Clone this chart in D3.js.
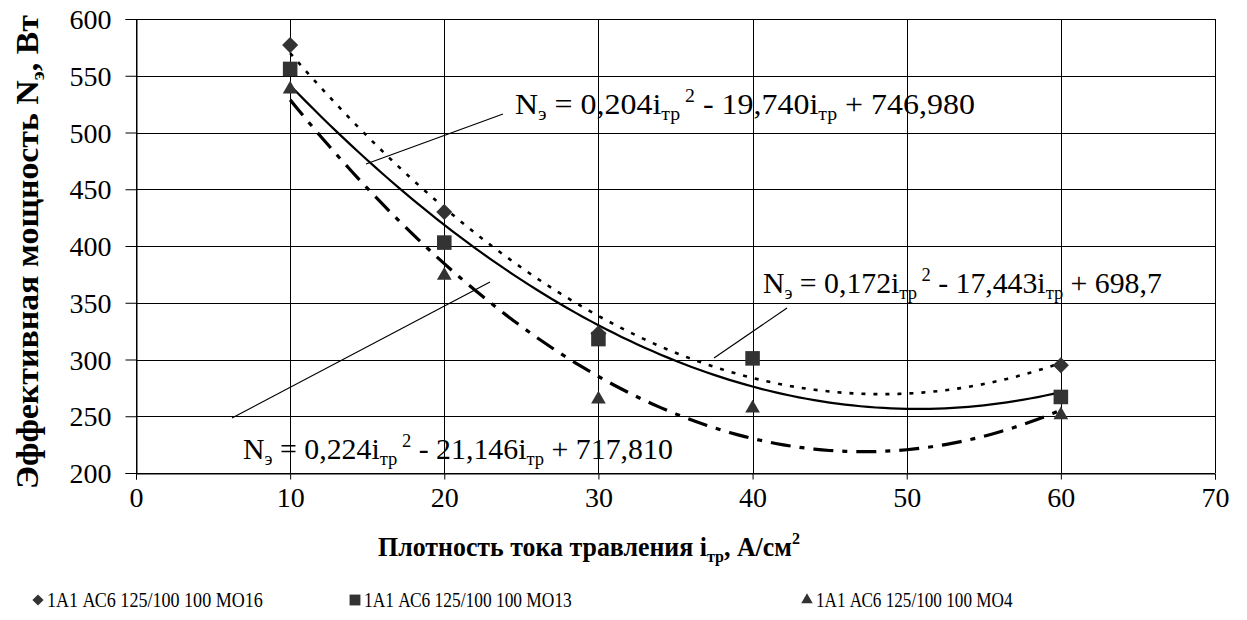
<!DOCTYPE html>
<html>
<head>
<meta charset="utf-8">
<script src="https://cdn.jsdelivr.net/npm/d3@7"></script>
</head>
<body style="margin:0">
<svg id="chart" width="1247" height="620"></svg>
<script>
// Measured series: etching current density vs effective power
const xValues    = [10, 20, 30, 40, 60];
const seriesMO16 = [577, 430, 323, null, 295];
const seriesMO13 = [556, 403, 318, 301, 267];
const seriesMO4  = [538, 374, 265, 257, 251];
const seriesNames = ["1А1 АС6 125/100 100 МО16", "1А1  АС6 125/100 100 МО13", "1А1 АС6 125/100 100 МО4"];

// Polynomial trend coefficients for N = a·i² + b·i + c, with their printed text
const trendCoefsA = [0.204, 0.172, 0.224];
const trendCoefsB = [-19.740, -17.443, -21.146];
const trendCoefsC = [746.980, 698.7, 717.810];
const trendTextA = ["0,204", "0,172", "0,224"];
const trendTextB = ["19,740", "17,443", "21,146"];
const trendTextC = ["746,980", "698,7", "717,810"];

const xTicks = [0, 10, 20, 30, 40, 50, 60, 70];
const yTicks = [200, 250, 300, 350, 400, 450, 500, 550, 600];

const FONT = '"Liberation Serif"';
const svg = d3.select("#chart");
const x = d3.scaleLinear().domain([0, 70]).range([136, 1215]);
const y = d3.scaleLinear().domain([200, 600]).range([473, 19]);

// grid
const grid = svg.append("g").attr("stroke", "#000").attr("stroke-width", 1).attr("shape-rendering", "crispEdges");
grid.selectAll("line.h").data(yTicks).join("line")
  .attr("x1", x(0)).attr("x2", x(70)).attr("y1", d => Math.round(y(d)) + 0.5).attr("y2", d => Math.round(y(d)) + 0.5);
grid.selectAll("line.v").data(xTicks).join("line")
  .attr("y1", y(200)).attr("y2", y(600)).attr("x1", d => Math.round(x(d)) + 0.5).attr("x2", d => Math.round(x(d)) + 0.5);

// axes
const yAxis = d3.axisLeft(y).tickValues(yTicks).tickSize(11).tickFormat(d3.format("d"));
const gy = svg.append("g").attr("transform", `translate(${Math.round(x(0)) + 0.5},0)`).call(yAxis);
const xAxis = d3.axisBottom(x).tickValues(xTicks).tickSize(6).tickFormat(d3.format("d"));
const gx = svg.append("g").attr("transform", `translate(0,${Math.round(y(200)) + 0.5})`).call(xAxis);
[gx, gy].forEach(g => {
  g.attr("font-family", null).attr("font-size", null);
  g.select(".domain").attr("stroke", "#000");
  g.selectAll(".tick line").attr("stroke", "#000");
  g.selectAll("text").attr("fill", "#000")
    .style("font-family", FONT).style("font-size", "28px");
});
gy.selectAll(".tick text").attr("x", -25).attr("dy", "0.34em");
gx.selectAll(".tick text").attr("y", 33).attr("dy", 0);

// rich text helper: [text, kind] where kind is "n", "sub" or "sup"
function richText(sel, parts, size) {
  let shift = 0;
  parts.forEach(([t, kind]) => {
    let target = 0, fs = size;
    if (kind === "sub") { target = size * 0.2; fs = size * 0.62; }
    if (kind === "sup") { target = -size * 0.42; fs = size * 0.62; }
    sel.append("tspan").attr("dy", target - shift)
      .style("font-size", fs + "px").style("font-family", FONT).text(t);
    shift = target;
  });
}
// stretch a text horizontally so that it spans the wanted width
function fitWidth(textSel, width) {
  const w = textSel.node().getBBox().width;
  if (w > 0) textSel.attr("transform", `scale(${width / w},1)`);
}

// trend lines
const trendStyles = [
  { width: 2.6, dash: "4,8" },
  { width: 2.2, dash: null },
  { width: 3.2, dash: "20,9,5,9" }
];
const line = d3.line().x(d => x(d[0])).y(d => y(d[1]));
trendCoefsA.forEach((a, k) => {
  const pts = d3.range(10, 60.01, 0.5).map(i => [i, a * i * i + trendCoefsB[k] * i + trendCoefsC[k]]);
  svg.append("path").datum(pts).attr("d", line)
    .attr("fill", "none").attr("stroke", "#000")
    .attr("stroke-width", trendStyles[k].width)
    .attr("stroke-dasharray", trendStyles[k].dash);
});

// markers
const markerFill = "#333";
const seriesList = [
  { vals: seriesMO16, sym: d3.symbol().type(d3.symbolDiamond2).size(165) },
  { vals: seriesMO13, sym: d3.symbol().type(d3.symbolSquare2).size(270) },
  { vals: seriesMO4, sym: d3.symbol().type(d3.symbolTriangle2).size(155) }
];
seriesList.forEach(s => {
  svg.append("g").selectAll("path")
    .data(xValues.map((xv, i) => [xv, s.vals[i]]).filter(d => d[1] != null))
    .join("path")
    .attr("d", s.sym)
    .attr("transform", d => `translate(${x(d[0])},${y(d[1])})`)
    .attr("fill", markerFill);
});

// equation labels with leader lines
const labelPos = [[515, 114, 460], [763, 293, 399], [243, 459, 430]];
const leaders = [[[503, 114], [366, 164]], [[787, 308], [714, 358]], [[490, 282], [232, 418]]];
leaders.forEach(l => {
  svg.append("line").attr("x1", l[0][0]).attr("y1", l[0][1]).attr("x2", l[1][0]).attr("y2", l[1][1])
    .attr("stroke", "#000").attr("stroke-width", 1.2);
});
trendTextA.forEach((ta, k) => {
  const g = svg.append("g").attr("transform", `translate(${labelPos[k][0]},${labelPos[k][1]})`);
  const t = g.append("text").attr("x", 0).attr("y", 0)
    .attr("fill", "#000").style("font-size", "29px").style("font-family", FONT);
  richText(t, [["N", "n"], ["э", "sub"], [" = " + ta + "i", "n"], ["тр", "sub"], [" 2", "sup"],
    [" - " + trendTextB[k] + "i", "n"], ["тр", "sub"], [" + " + trendTextC[k], "n"]], 29);
  fitWidth(t, labelPos[k][2]);
});

// axis titles
const yTitleG = svg.append("g").attr("transform", "translate(38,252) rotate(-90)");
const yTitle = yTitleG.append("text").attr("text-anchor", "middle").attr("fill", "#000")
  .style("font-weight", "bold").style("font-size", "31px").style("font-family", FONT);
richText(yTitle, [["Эффективная мощность N", "n"], ["э", "sub"], [", Вт", "n"]], 31);
fitWidth(yTitle, 474);

const xTitleG = svg.append("g").attr("transform", "translate(589,556)");
const xTitle = xTitleG.append("text").attr("text-anchor", "middle").attr("fill", "#000")
  .style("font-weight", "bold").style("font-size", "28px").style("font-family", FONT);
richText(xTitle, [["Плотность тока травления i", "n"], ["тр", "sub"], [", А/см", "n"], ["2", "sup"]], 28);
fitWidth(xTitle, 422);

// legend
const legendX = [38, 355, 807];
const legendW = [216, 208, 197];
const legendSyms = [
  d3.symbol().type(d3.symbolDiamond2).size(80),
  d3.symbol().type(d3.symbolSquare2).size(150),
  d3.symbol().type(d3.symbolTriangle2).size(95)
];
seriesNames.forEach((name, k) => {
  const g = svg.append("g").attr("transform", `translate(${legendX[k]},600)`);
  g.append("path").attr("d", legendSyms[k]).attr("fill", markerFill);
  const tg = g.append("g").attr("transform", "translate(9,7)");
  const t = tg.append("text").attr("fill", "#000")
    .style("font-size", "21px").style("font-family", FONT).text(name);
  fitWidth(t, legendW[k]);
});
</script>
</body>
</html>
